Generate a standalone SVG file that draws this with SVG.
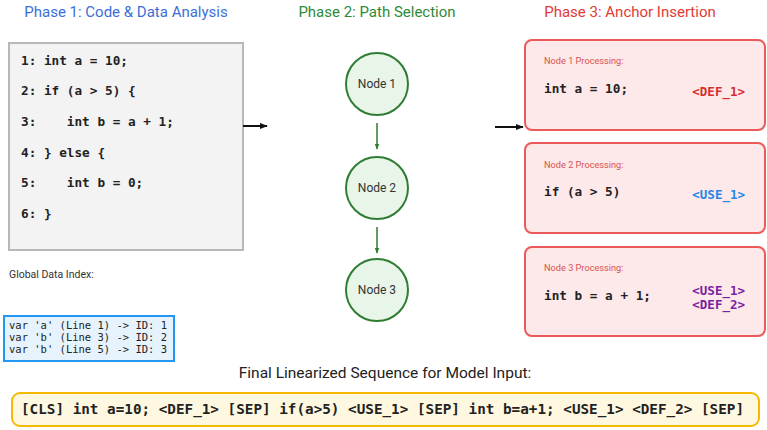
<svg xmlns="http://www.w3.org/2000/svg" width="767" height="430" viewBox="0 0 767 430">
<style>
.title{font-family:Roboto,"Open Sans",sans-serif;font-size:15px;text-anchor:middle}
.code{font-family:"DejaVu Sans Mono",monospace;font-weight:bold;font-size:12.7px;fill:#222}
.lbl{font-family:Roboto,sans-serif;font-size:9.2px;fill:#d9534f}
.tag{font-family:"DejaVu Sans Mono",monospace;font-weight:bold;font-size:12.5px;text-anchor:end}
.node circle{fill:#e8f5e9;stroke:#2e7d32;stroke-width:2}
.node text{font-family:Roboto,sans-serif;font-size:12px;fill:#333;text-anchor:middle}
.pbox{fill:#fde8ea;stroke:#ea5a5a;stroke-width:2}
</style>
<defs>
<marker id="ak" viewBox="0 0 10 10" refX="9" refY="5" markerWidth="4" markerHeight="4" orient="auto"><path d="M0,1 L10,5 L0,9 z" fill="#111"/></marker>
<marker id="ag" viewBox="0 0 10 10" refX="9" refY="5" markerWidth="4" markerHeight="4" orient="auto"><path d="M0,1 L10,5 L0,9 z" fill="#2e7d32"/></marker>
</defs>
<rect width="767" height="430" fill="#fff"/>
<text class="title" x="126" y="17" fill="#3b6fd8">Phase 1: Code &amp; Data Analysis</text>
<text class="title" x="377" y="17" fill="#2e8b3a">Phase 2: Path Selection</text>
<text class="title" x="630" y="17" fill="#e53935">Phase 3: Anchor Insertion</text>

<g id="code">
<rect x="9" y="43" width="234" height="207" fill="#f3f3f3" stroke="#b8b8b8" stroke-width="2"/>
<text class="code" x="21" y="65" xml:space="preserve">1: int a = 10;</text>
<text class="code" x="21" y="95" xml:space="preserve">2: if (a &gt; 5) {</text>
<text class="code" x="21" y="126" xml:space="preserve">3:    int b = a + 1;</text>
<text class="code" x="21" y="157" xml:space="preserve">4: } else {</text>
<text class="code" x="21" y="187" xml:space="preserve">5:    int b = 0;</text>
<text class="code" x="21" y="218" xml:space="preserve">6: }</text>
</g>

<g id="index">
<text x="9" y="278" font-family="Roboto,sans-serif" font-size="10.5" fill="#333">Global Data Index:</text>
<rect x="4" y="316" width="170" height="45" fill="#e6f3fd" stroke="#2196f3" stroke-width="2"/>
<text font-family="DejaVu Sans Mono,monospace" font-size="10.5" fill="#222" xml:space="preserve"><tspan x="9" y="329">var 'a' (Line 1) -&gt; ID: 1</tspan><tspan x="9" y="341">var 'b' (Line 3) -&gt; ID: 2</tspan><tspan x="9" y="353">var 'b' (Line 5) -&gt; ID: 3</tspan></text>
</g>

<g id="node1" class="node"><circle cx="377" cy="84" r="31"/><text x="377" y="88">Node 1</text></g>
<g id="node2" class="node"><circle cx="377" cy="188" r="31"/><text x="377" y="192">Node 2</text></g>
<g id="node3" class="node"><circle cx="377" cy="290" r="31"/><text x="377" y="294">Node 3</text></g>

<g id="proc1">
<rect class="pbox" x="525" y="40" width="240" height="90" rx="7"/>
<text class="lbl" x="544" y="64">Node 1 Processing:</text>
<text class="code" x="544" y="93">int a = 10;</text>
<text class="tag" x="745" y="96" fill="#d32f2f">&lt;DEF_1&gt;</text>
</g>
<g id="proc2">
<rect class="pbox" x="525" y="143" width="240" height="90" rx="7"/>
<text class="lbl" x="544" y="168">Node 2 Processing:</text>
<text class="code" x="544" y="196">if (a &gt; 5)</text>
<text class="tag" x="745" y="199" fill="#1e88e5">&lt;USE_1&gt;</text>
</g>
<g id="proc3">
<rect class="pbox" x="525" y="247" width="240" height="89" rx="7"/>
<text class="lbl" x="544" y="271">Node 3 Processing:</text>
<text class="code" x="544" y="300">int b = a + 1;</text>
<text class="tag" x="745" y="295" fill="#7b1fa2">&lt;USE_1&gt;</text>
<text class="tag" x="745" y="309" fill="#7b1fa2">&lt;DEF_2&gt;</text>
</g>

<g id="final">
<text x="385" y="378" font-family="Roboto,sans-serif" font-size="15.5" fill="#222" text-anchor="middle">Final Linearized Sequence for Model Input:</text>
<rect x="12" y="393" width="747" height="33" rx="8" fill="#fff8e1" stroke="#f6b800" stroke-width="2"/>
<text x="21" y="414" font-family="DejaVu Sans Mono,monospace" font-weight="bold" font-size="14.3" fill="#222" xml:space="preserve">[CLS] int a=10; &lt;DEF_1&gt; [SEP] if(a&gt;5) &lt;USE_1&gt; [SEP] int b=a+1; &lt;USE_1&gt; &lt;DEF_2&gt; [SEP]</text>
</g>

<g id="connectors">
<line x1="243" y1="126" x2="267" y2="126" stroke="#111" stroke-width="2" marker-end="url(#ak)"/>
<line x1="495" y1="127" x2="523" y2="127" stroke="#111" stroke-width="2" marker-end="url(#ak)"/>
<line x1="377" y1="123" x2="377" y2="149" stroke="#2e7d32" stroke-width="1.5" marker-end="url(#ag)"/>
<line x1="377" y1="227" x2="377" y2="253" stroke="#2e7d32" stroke-width="1.5" marker-end="url(#ag)"/>
</g>
</svg>
